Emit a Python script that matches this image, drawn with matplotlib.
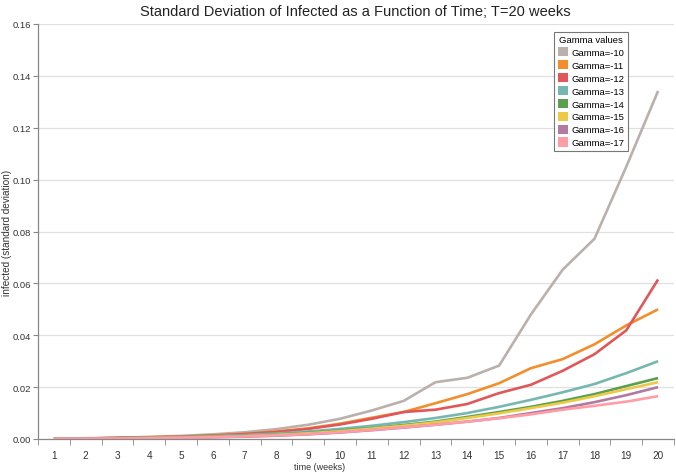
import matplotlib
matplotlib.use("Agg")
import matplotlib.pyplot as plt
from matplotlib.patches import Patch

weeks = list(range(1, 21))
gamma_labels = ["Gamma=-10", "Gamma=-11", "Gamma=-12", "Gamma=-13",
                "Gamma=-14", "Gamma=-15", "Gamma=-16", "Gamma=-17"]
colors = ["#bab0ac", "#f28e2b", "#e15759", "#76b7b2",
          "#59a14f", "#edc948", "#b07aa1", "#ff9da7"]

g10 = [0.0001, 0.0003, 0.0005, 0.0008, 0.0012, 0.0018, 0.0026, 0.0038, 0.0055, 0.0078,
       0.0110, 0.0147, 0.0219, 0.0236, 0.0283, 0.0480, 0.0653, 0.0772, 0.1050, 0.1342]
g11 = [0.0001, 0.0002, 0.0004, 0.0007, 0.0010, 0.0014, 0.0020, 0.0029, 0.0041, 0.0059,
       0.0082, 0.0104, 0.0138, 0.0173, 0.0215, 0.0273, 0.0308, 0.0365, 0.0438, 0.0500]
g12 = [0.0001, 0.0002, 0.0004, 0.0006, 0.0009, 0.0013, 0.0019, 0.0027, 0.0039, 0.0056,
       0.0078, 0.0104, 0.0113, 0.0135, 0.0177, 0.0209, 0.0263, 0.0327, 0.0419, 0.0615]
g13 = [0.0001, 0.0002, 0.0003, 0.0005, 0.0008, 0.0011, 0.0015, 0.0021, 0.0029, 0.0039,
       0.0051, 0.0065, 0.0081, 0.0100, 0.0124, 0.0151, 0.0180, 0.0212, 0.0254, 0.0300]
g14 = [0.0001, 0.0002, 0.0003, 0.0004, 0.0006, 0.0009, 0.0012, 0.0017, 0.0024, 0.0032,
       0.0042, 0.0054, 0.0067, 0.0085, 0.0104, 0.0124, 0.0147, 0.0173, 0.0204, 0.0235]
g15 = [0.0001, 0.0001, 0.0002, 0.0004, 0.0006, 0.0008, 0.0011, 0.0016, 0.0022, 0.0030,
       0.0040, 0.0051, 0.0064, 0.0081, 0.0099, 0.0119, 0.0140, 0.0165, 0.0192, 0.0219]
g16 = [0.0001, 0.0001, 0.0002, 0.0003, 0.0005, 0.0007, 0.0009, 0.0013, 0.0018, 0.0025,
       0.0034, 0.0044, 0.0055, 0.0067, 0.0081, 0.0100, 0.0119, 0.0142, 0.0169, 0.0200]
g17 = [0.0001, 0.0001, 0.0002, 0.0003, 0.0005, 0.0007, 0.0010, 0.0014, 0.0019, 0.0026,
       0.0035, 0.0045, 0.0055, 0.0067, 0.0080, 0.0095, 0.0113, 0.0128, 0.0144, 0.0165]
series = [g10, g11, g12, g13, g14, g15, g16, g17]

y_ticks = [0.00, 0.02, 0.04, 0.06, 0.08, 0.10, 0.12, 0.14, 0.16]

plt.rcParams['font.family'] = ['Liberation Sans', 'DejaVu Sans']
fig = plt.figure(figsize=(6.76, 4.77), dpi=100)
ax = fig.add_axes([38/676, 1-440/477, (674-38)/676, (440-25)/477])

for vals, col, lab in zip(series, colors, gamma_labels):
    ax.plot(weeks, vals, color=col, lw=1.9, label=lab, solid_capstyle='butt')

ax.set_xlim(0.5, 20.5)
ax.set_ylim(0, 0.16)
ax.set_yticks(y_ticks)
ax.set_yticklabels([f"{v:.2f}" for v in y_ticks], fontsize=6.8, color="#333333")
ax.set_xticks(weeks)
ax.set_xticklabels([str(w) for w in weeks], fontsize=7.2, color="#333333")
ax.set_xticks([w + 0.5 for w in range(0, 21)], minor=True)
ax.tick_params(axis='x', which='major', length=0, pad=8)
ax.tick_params(axis='x', which='minor', length=4, color="#888888")
ax.tick_params(axis='y', length=3.5, color="#888888", pad=1.5)
ax.grid(axis='y', color="#e0e0e0", lw=0.9)
ax.set_axisbelow(True)
for s in ['top', 'right']:
    ax.spines[s].set_visible(False)
for s in ['left', 'bottom']:
    ax.spines[s].set_color("#888888")
    ax.spines[s].set_linewidth(0.9)

fig.text(320/676, 1-468/477, "time (weeks)", ha='center', va='center',
         fontsize=6.5, color="#333333")
fig.text(7/676, 1-233/477, "infected (standard deviation)", ha='center', va='center',
         rotation=90, fontsize=7.2, color="#333333")
fig.text(355/676, 1-12/477, "Standard Deviation of Infected as a Function of Time; T=20 weeks",
         ha='center', va='center', fontsize=10.5, color="#222222")

handles = [Patch(facecolor=c, edgecolor='none') for c in colors]
leg = ax.legend(handles, gamma_labels, title="Gamma values", loc='upper right',
                bbox_to_anchor=((628-38)/636, 1-(33-25)/415), fontsize=6.8,
                title_fontsize=6.8, frameon=True, fancybox=False,
                handlelength=1.1, handleheight=1.1, handletextpad=0.4,
                labelspacing=0.33, borderpad=0.35, borderaxespad=0)
leg.get_frame().set_edgecolor("#555555")
leg.get_frame().set_linewidth(0.8)

fig.savefig("out.png", dpi=100)
